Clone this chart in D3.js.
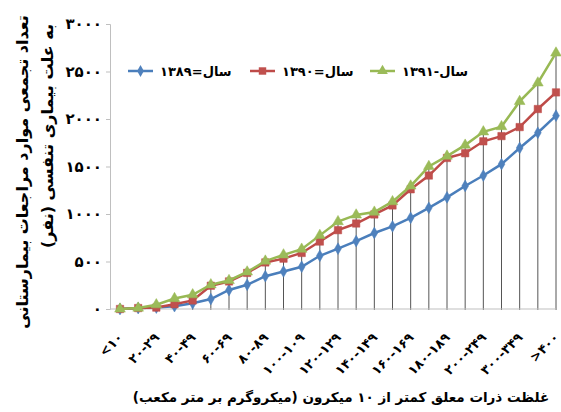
<!DOCTYPE html>
<html>
<head>
<meta charset="utf-8">
<script src="https://cdn.jsdelivr.net/npm/d3@7"></script>
<style>
  body { margin: 0; background: #fff; }
  text { font-family: "DejaVu Sans", sans-serif; font-weight: bold; fill: #000; }
</style>
</head>
<body>
<div id="chart"></div>
<script>
// categories (PM10 concentration bins)
var categories = ["<۱۰", "۱۰-۱۹", "۲۰-۲۹", "۳۰-۳۹", "۴۰-۴۹", "۵۰-۵۹", "۶۰-۶۹", "۷۰-۷۹", "۸۰-۸۹", "۹۰-۹۹",
  "۱۰۰-۱۰۹", "۱۱۰-۱۱۹", "۱۲۰-۱۲۹", "۱۳۰-۱۳۹", "۱۴۰-۱۴۹", "۱۵۰-۱۵۹", "۱۶۰-۱۶۹", "۱۷۰-۱۷۹", "۱۸۰-۱۸۹", "۱۹۰-۱۹۹",
  "۲۰۰-۲۴۹", "۲۵۰-۲۹۹", "۳۰۰-۳۴۹", "۳۵۰-۳۹۹", ">۴۰۰"];

// cumulative hospital visits per year
var y1389 = [0, 10, 15, 30, 60, 105, 200, 255, 345, 395, 445, 560, 635, 715, 800, 870, 960, 1065, 1175, 1295, 1405, 1525, 1695, 1855, 2035];
var y1390 = [0, 10, 15, 50, 90, 245, 290, 380, 490, 530, 590, 710, 830, 900, 995, 1090, 1260, 1405, 1590, 1640, 1765, 1820, 1915, 2105, 2280];
var y1391 = [0, 10, 45, 110, 150, 255, 300, 390, 505, 570, 630, 775, 920, 990, 1020, 1130, 1295, 1500, 1610, 1725, 1865, 1920, 2185, 2380, 2695];

var yTicks = [0, 500, 1000, 1500, 2000, 2500, 3000];
var seriesNames = ["سال=۱۳۸۹", "سال=۱۳۹۰", "سال-۱۳۹۱"];

var w = 561, h = 412;

function fa(n) {
  return String(n).replace(/[0-9]/g, function(d) { return "۰۱۲۳۴۵۶۷۸۹"[+d]; });
}

var x = d3.scalePoint()
    .domain(categories)
    .range([120, 556]);

var y = d3.scaleLinear()
    .domain([0, 3000])
    .range([309, 24]);

var series = [
  { name: seriesNames[0], values: y1389, line: "#4A7EBB", fill: "#4F81BD", sym: d3.symbolDiamond, size: 40 },
  { name: seriesNames[1], values: y1390, line: "#BE4B48", fill: "#C0504D", sym: d3.symbolSquare, size: 55 },
  { name: seriesNames[2], values: y1391, line: "#98B954", fill: "#9BBB59", sym: d3.symbolTriangle, size: 50 }
];

var svg = d3.select("#chart").append("svg")
    .attr("width", w)
    .attr("height", h);

svg.append("rect").attr("width", w).attr("height", h).attr("fill", "#fff");

// drop lines
svg.append("g").selectAll("line")
  .data(categories)
  .enter().append("line")
  .attr("x1", function(d) { return x(d); })
  .attr("x2", function(d) { return x(d); })
  .attr("y1", function(d, i) { return y(d3.max([y1389[i], y1390[i], y1391[i]])); })
  .attr("y2", y(0) + 1)
  .attr("stroke", "#555")
  .attr("stroke-width", 1);

// y axis
var yAxis = d3.axisLeft(y).tickValues(yTicks).tickSize(4).tickFormat(fa);
var gy = svg.append("g")
    .attr("transform", "translate(110,0)")
    .call(yAxis);
gy.select(".domain").attr("stroke", "#bfbfbf");
gy.selectAll(".tick line").attr("stroke", "#bfbfbf");
gy.selectAll(".tick text")
  .attr("x", -8)
  .style("font-size", "15px");

// x axis
var xAxis = d3.axisBottom(x).tickSize(0).tickFormat(function(d, i) { return i % 2 === 0 ? d : ""; });
var gx = svg.append("g")
    .attr("transform", "translate(0," + y(0) + ")")
    .call(xAxis);
gx.select(".domain").remove();
gx.append("line")
  .attr("x1", 110).attr("x2", 556)
  .attr("stroke", "#bfbfbf");
gx.selectAll(".tick text")
  .style("font-size", "13px")
  .attr("text-anchor", "end")
  .attr("y", 0)
  .attr("dy", "0.35em")
  .attr("transform", "translate(0,26) rotate(-45)");

// lines and markers
var line = d3.line()
  .x(function(d, i) { return x(categories[i]); })
  .y(function(d) { return y(d); });

series.forEach(function(s) {
  svg.append("path")
    .datum(s.values)
    .attr("d", line)
    .attr("fill", "none")
    .attr("stroke", s.line)
    .attr("stroke-width", 2.5);
  svg.append("g").selectAll("path")
    .data(s.values)
    .enter().append("path")
    .attr("d", d3.symbol().type(s.sym).size(s.size))
    .attr("transform", function(d, i) { return "translate(" + x(categories[i]) + "," + y(d) + ")"; })
    .attr("fill", s.fill)
    .attr("stroke", s.line)
    .attr("stroke-width", 0.5);
});

// legend
var legendX = [128, 250, 370];
var legend = svg.append("g").attr("transform", "translate(0,71)");
series.forEach(function(s, i) {
  var g = legend.append("g").attr("transform", "translate(" + legendX[i] + ",0)");
  g.append("line").attr("x1", 0).attr("x2", 25).attr("stroke", s.line).attr("stroke-width", 2.5);
  g.append("path")
    .attr("d", d3.symbol().type(s.sym).size(s.size))
    .attr("transform", "translate(12.5,0)")
    .attr("fill", s.fill);
  g.append("text")
    .attr("x", 32)
    .attr("dy", "0.35em")
    .style("font-size", "13px")
    .text(s.name);
});

// axis titles
svg.append("text")
  .attr("transform", "translate(28,172) rotate(-90)")
  .attr("text-anchor", "middle")
  .style("font-size", "16px")
  .text("تعداد تجمعی موارد مراجعات بیمارستانی");
svg.append("text")
  .attr("transform", "translate(53,136) rotate(-90)")
  .attr("text-anchor", "middle")
  .style("font-size", "16px")
  .text("به علت بیماری تنفسی (نفر)");
svg.append("text")
  .attr("x", 341)
  .attr("y", 402)
  .attr("text-anchor", "middle")
  .style("font-size", "13.5px")
  .text("غلظت ذرات معلق کمتر از ۱۰ میکرون (میکروگرم بر متر مکعب)");
</script>
</body>
</html>
